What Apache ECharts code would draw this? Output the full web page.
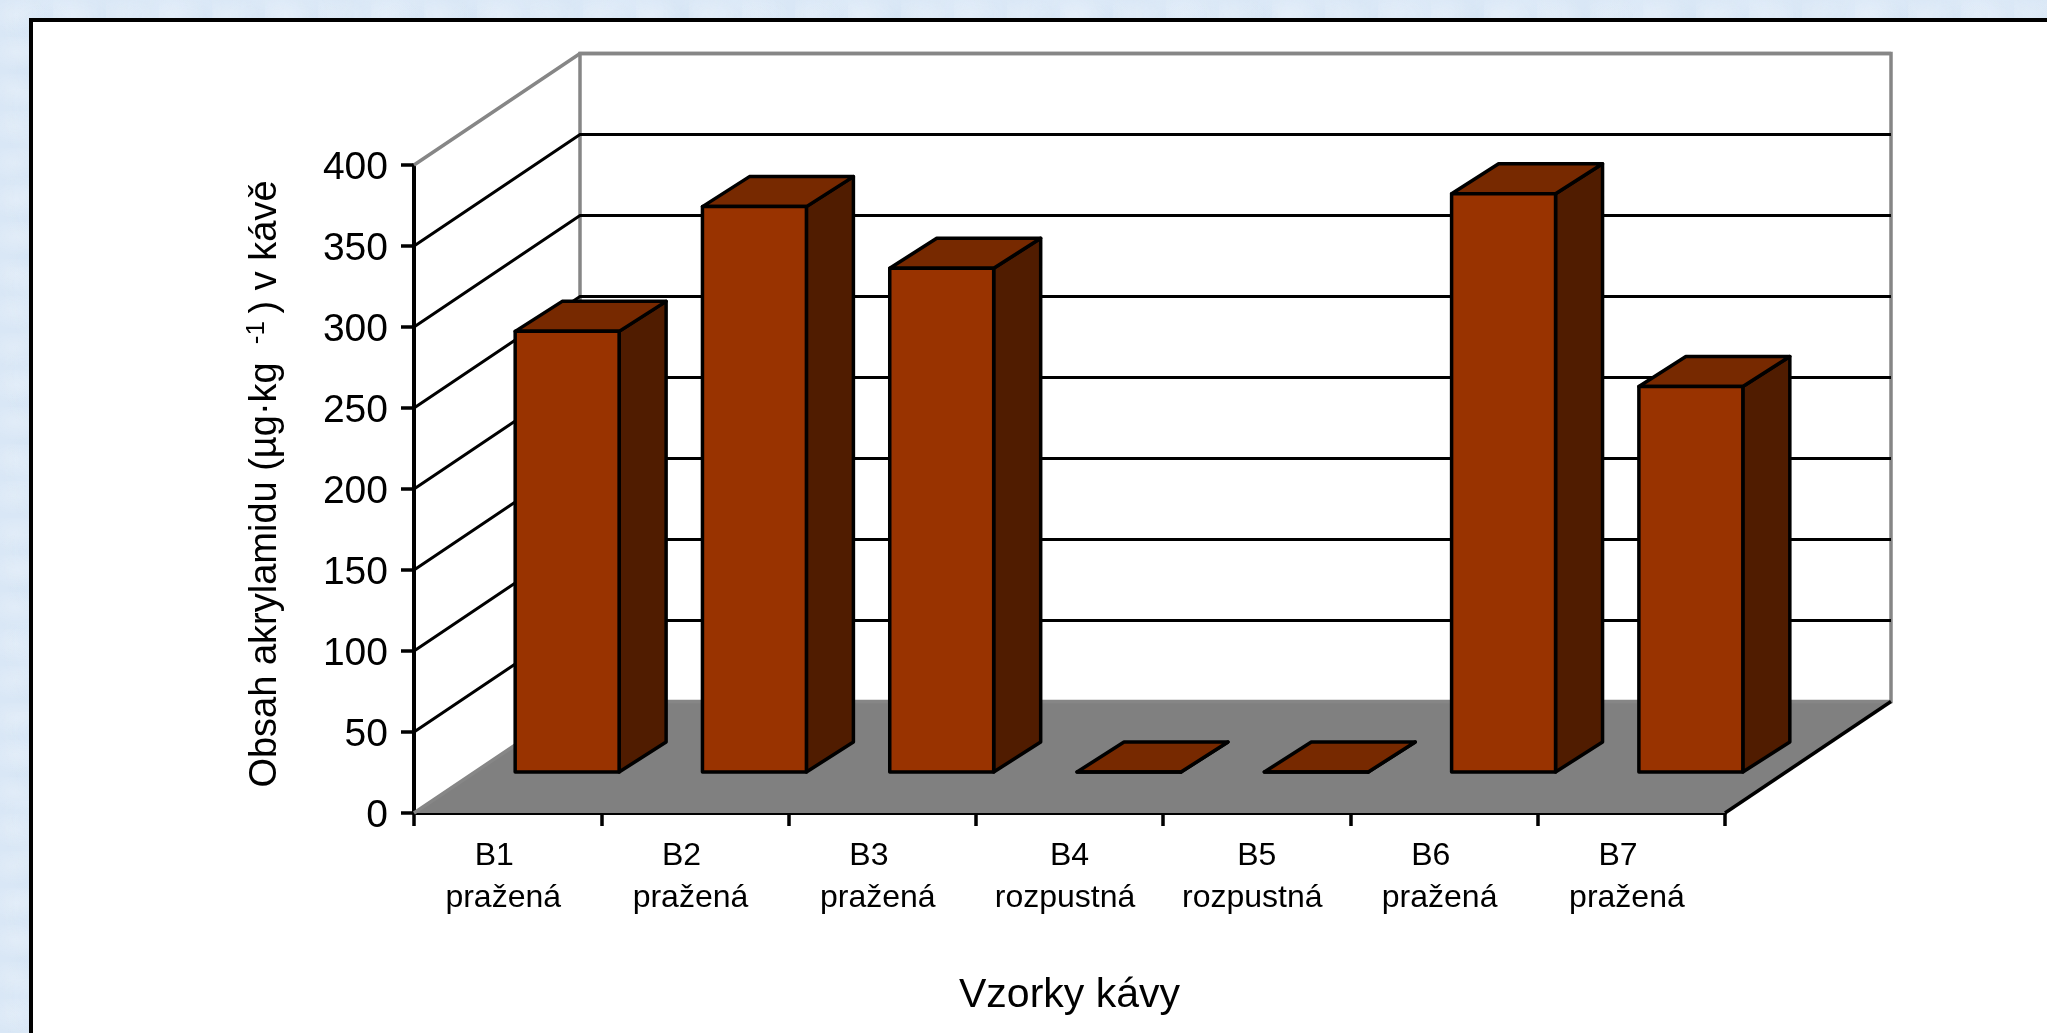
<!DOCTYPE html>
<html>
<head>
<meta charset="utf-8">
<style>
  html, body { margin: 0; padding: 0; }
  /* mottled light blue page behind the white panel */
  #main {
    width: 2047px;
    height: 1033px;
    background-color: #d9e7f6;
    background-image:
      radial-gradient(ellipse at 30% 40%, rgba(255,255,255,.22), rgba(255,255,255,0) 60%),
      radial-gradient(ellipse at 70% 60%, rgba(190,214,238,.25), rgba(190,214,238,0) 60%),
      radial-gradient(ellipse at 50% 20%, rgba(235,243,252,.25), rgba(235,243,252,0) 70%);
    background-size: 53px 37px, 71px 47px, 113px 89px;
  }
</style>
</head>
<body>
<div id="main"></div>
<script src="https://cdn.jsdelivr.net/npm/echarts@6/dist/echarts.min.js"></script>
<script>
const sampleCodes = ["B1", "B2", "B3", "B4", "B5", "B6", "B7"];
const sampleTypes = ["pražená", "pražená", "pražená", "rozpustná", "rozpustná", "pražená", "pražená"];
const acrylamide = [272, 349, 311, 0, 0, 357, 238];
const yTicks = [0, 50, 100, 150, 200, 250, 300, 350, 400];

const fontName = '"Liberation Sans", Arial, sans-serif';

// fake 3D: how far the back wall sits from the axes, and where the bars stand on the floor
const wallDx = 166, wallDy = 111.5;
const barShiftX = 59.5, barShiftY = 41;
const barDx = 47, barDy = 30;
const barRatio = 0.555;

const frontColor = "#993300";
const topColor = "#772900";
const sideColor = "#501c00";

const chart = echarts.init(document.getElementById("main"));

function renderFloor(params, api) {
  const cs = params.coordSys;
  const x0 = cs.x, x1 = cs.x + cs.width;
  const y0 = cs.y + cs.height, yTop = cs.y;
  return {
    type: "group",
    children: [
      {
        type: "polygon",
        shape: { points: [[x0, y0], [x0 + wallDx, y0 - wallDy], [x1 + wallDx, y0 - wallDy], [x1, y0]] },
        style: { fill: "#808080", stroke: null }
      },
      {
        type: "polyline",
        shape: { points: [[x0, y0], [x0 + wallDx, y0 - wallDy], [x0 + wallDx, yTop - wallDy], [x1 + wallDx, yTop - wallDy], [x1 + wallDx, y0 - wallDy], [x0 + wallDx, y0 - wallDy]] },
        style: { fill: null, stroke: "#868686", lineWidth: 3.5 }
      },
      {
        type: "line",
        shape: { x1: x1, y1: y0, x2: x1 + wallDx, y2: y0 - wallDy },
        style: { stroke: "#000", lineWidth: 3.5 }
      }
    ]
  };
}

function renderGridLine(params, api) {
  const v = api.value(0);
  const cs = params.coordSys;
  if (v === 0) return null;
  const y = api.coord([0, v])[1];
  return {
    type: "polyline",
    shape: { points: [[cs.x, y], [cs.x + wallDx, y - wallDy], [cs.x + cs.width + wallDx, y - wallDy]] },
    style: { fill: null, stroke: v === 400 ? "#868686" : "#000", lineWidth: v === 400 ? 3.5 : 3 }
  };
}

function renderBar(params, api) {
  const base = api.coord([api.value(0), 0]);
  const head = api.coord([api.value(0), api.value(1)]);
  const w = api.size([1, 0])[0] * barRatio;
  const l = base[0] + barShiftX - w / 2;
  const r = l + w;
  const b = base[1] - barShiftY;
  const t = head[1] - barShiftY;
  const edge = { stroke: "#000", lineWidth: 3.5, lineJoin: "round" };
  return {
    type: "group",
    children: [
      { type: "polygon", shape: { points: [[r, b], [r + barDx, b - barDy], [r + barDx, t - barDy], [r, t]] }, style: { fill: sideColor, ...edge } },
      { type: "polygon", shape: { points: [[l, t], [r, t], [r + barDx, t - barDy], [l + barDx, t - barDy]] }, style: { fill: topColor, ...edge } },
      { type: "polygon", shape: { points: [[l, b], [r, b], [r, t], [l, t]] }, style: { fill: frontColor, ...edge } }
    ]
  };
}

chart.setOption({
  animation: false,
  textStyle: { fontFamily: fontName, color: "#000" },
  graphic: [{
    type: "rect",
    z: -1,
    shape: { x: 31, y: 20, width: 2100, height: 1100 },
    style: { fill: "#fff", stroke: "#000", lineWidth: 4 }
  }],
  grid: { left: 414, right: 322, top: 165, bottom: 220 },
  xAxis: {
    type: "category",
    data: sampleCodes,
    name: "Vzorky kávy",
    nameLocation: "middle",
    nameGap: 162,
    nameTextStyle: { fontSize: 41, fontFamily: fontName, color: "#000" },
    axisLine: { lineStyle: { color: "#000", width: 4 } },
    axisTick: { show: true, interval: 0, length: 13, lineStyle: { color: "#000", width: 3.5 } },
    axisLabel: {
      interval: 0,
      margin: 22,
      fontSize: 32,
      lineHeight: 42,
      color: "#000",
      fontFamily: fontName,
      formatter: (code, i) => code + (sampleTypes[i] === "pražená" ? "\u00a0\u00a0\u00a0" : "") + "\n" + sampleTypes[i] + "\u00a0"
    }
  },
  yAxis: {
    type: "value",
    min: 0,
    max: 400,
    interval: 50,
    name: "Obsah akrylamidu (µg·kg\u00a0\u2009{sup|-1}\u2009)\u00a0v\u00a0kávě",
    nameLocation: "middle",
    nameRotate: 90,
    nameGap: 126,
    nameTextStyle: {
      fontSize: 38,
      fontFamily: fontName,
      color: "#000",
      padding: [0, 0, 0, 10],
      rich: { sup: { fontSize: 26, fontFamily: fontName, color: "#000", padding: [0, 0, 18, 0] } }
    },
    axisLine: { show: true, lineStyle: { color: "#000", width: 4 } },
    axisTick: { show: true, length: 13, lineStyle: { color: "#000", width: 3.5 } },
    axisLabel: {
      margin: 26,
      color: "#000",
      formatter: v => "{n|" + v + "}",
      rich: { n: { fontSize: 39, fontFamily: fontName, color: "#000", padding: [6, 0, 0, 0] } }
    },
    splitLine: { show: false }
  },
  series: [
    { type: "custom", silent: true, z: 1, renderItem: renderFloor, data: [[0]] },
    { type: "custom", silent: true, z: 2, renderItem: renderGridLine, data: yTicks.map(v => [v]), encode: { y: 0 } },
    {
      type: "custom",
      silent: true,
      z: 3,
      renderItem: renderBar,
      data: acrylamide.map((v, i) => [i, v]),
      encode: { x: 0, y: 1 }
    }
  ]
});
</script>
</body>
</html>
